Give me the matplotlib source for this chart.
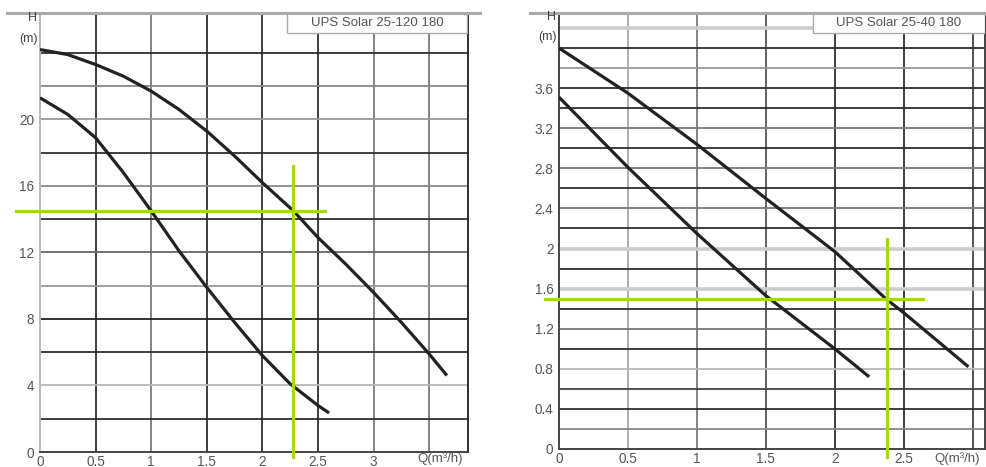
import matplotlib
matplotlib.use("Agg")
import matplotlib.pyplot as plt
from matplotlib.lines import Line2D
from matplotlib.patches import Rectangle

plt.rcParams['font.family'] = ['Liberation Sans', 'DejaVu Sans']

# pump curves, UPS Solar 25-120 180
q120_hi = [0, 0.25, 0.5, 0.75, 1.0, 1.25, 1.5, 1.75, 2.0, 2.28, 2.5, 2.75, 3.0, 3.25, 3.5, 3.66]
h120_hi = [24.2, 23.9, 23.3, 22.6, 21.7, 20.6, 19.3, 17.8, 16.2, 14.5, 12.9, 11.3, 9.6, 7.8, 5.9, 4.6]
q120_lo = [0, 0.25, 0.5, 0.75, 1.0, 1.25, 1.5, 1.75, 2.0, 2.25, 2.5, 2.6]
h120_lo = [21.3, 20.3, 18.9, 16.8, 14.5, 12.1, 9.9, 7.8, 5.8, 4.1, 2.8, 2.35]
duty120 = (2.28, 14.5)

# pump curves, UPS Solar 25-40 180
q40_hi = [0, 0.5, 1.0, 1.5, 2.0, 2.37, 2.5, 2.97]
h40_hi = [4.0, 3.55, 3.04, 2.5, 1.97, 1.5, 1.36, 0.82]
q40_lo = [0, 0.5, 1.0, 1.5, 2.0, 2.25]
h40_lo = [3.51, 2.81, 2.15, 1.53, 1.0, 0.72]
duty40 = (2.38, 1.5)

xt120 = [0, 0.5, 1, 1.5, 2, 2.5, 3]
yt120 = [0, 4, 8, 12, 16, 20]
xt40 = [0, 0.5, 1, 1.5, 2, 2.5]
yt40 = [0, 0.4, 0.8, 1.2, 1.6, 2.0, 2.4, 2.8, 3.2, 3.6]

DARK = '#2e2e2e'
MID = '#7a7a7a'
LIGHT = '#b8b8b8'
GREEN = '#a6d813'
TXT = '#555555'

W, H = 987, 467
fig = plt.figure(figsize=(W / 100, H / 100), dpi=100)
ax1 = fig.add_axes([40 / W, 1 - 452 / H, 428 / W, 439 / H])
ax2 = fig.add_axes([559 / W, 1 - 449 / H, 426 / W, 436 / H])


def grid(ax, xs, ys):
    for v, c in xs:
        ax.axvline(v, color=c, lw=1.3, zorder=1)
    for v, c in ys:
        ax.axhline(v, color=c, lw=1.3, zorder=1)


def curve(ax, q, h):
    ax.plot(q, h, color='#222222', lw=2.3, zorder=3,
            solid_capstyle='butt', solid_joinstyle='round')


# left chart
ax1.set_xlim(0, 3.85)
ax1.set_ylim(0, 26.4)
grid(ax1,
     [(0.5, DARK), (1.0, MID), (1.5, DARK), (2.0, DARK), (2.5, DARK), (3.0, MID), (3.5, MID)],
     [(2, DARK), (4, LIGHT), (6, DARK), (8, '#222222'), (10, '#999999'), (12, '#666666'),
      (14, DARK), (16, '#8a8a8a'), (18, DARK), (20, '#999999'), (22, '#888888'), (24, DARK)])
curve(ax1, q120_hi, h120_hi)
curve(ax1, q120_lo, h120_lo)
ax1.plot([-0.22, 2.56], [duty120[1], duty120[1]], color=GREEN, lw=2.3, zorder=4, clip_on=False)
ax1.plot([duty120[0], duty120[0]], [17.2, -0.3], color=GREEN, lw=2.3, zorder=4, clip_on=False)
ax1.spines['left'].set_color(LIGHT)
ax1.spines['bottom'].set_color('#444444')
ax1.spines['right'].set_color(DARK)
ax1.spines['top'].set_visible(False)
for s in ax1.spines.values():
    s.set_linewidth(1.4)
ax1.set_xticks(xt120, [f'{v:g}' for v in xt120])
ax1.set_yticks(yt120, [f'{v:g}' for v in yt120])
ax1.add_patch(Rectangle((0.577, 0.954), 0.421, 0.046, transform=ax1.transAxes,
                        facecolor='white', edgecolor='#aaaaaa', lw=1.0, zorder=5))
ax1.text(0.787, 0.977, 'UPS Solar 25-120 180', transform=ax1.transAxes,
         ha='center', va='center', fontsize=9.5, color=TXT, zorder=6)

# right chart
ax2.set_xlim(0, 3.09)
ax2.set_ylim(0, 4.35)
grid(ax2,
     [(0.5, '#aaaaaa'), (1.0, MID), (1.5, '#555555'), (2.0, DARK), (2.5, DARK), (3.0, '#444444')],
     [(0.2, '#888888'), (0.4, DARK), (0.6, '#444444'), (0.8, LIGHT), (1.0, DARK), (1.2, '#777777'),
      (1.4, DARK), (1.8, DARK), (2.2, DARK), (2.4, '#777777'), (2.6, DARK),
      (2.8, '#777777'), (3.0, DARK), (3.2, '#777777'), (3.4, DARK), (3.6, DARK),
      (3.8, '#999999'), (4.0, DARK)])
for v in (1.6, 2.0, 4.2):
    ax2.axhline(v, color='#cccccc', lw=2.6, zorder=1)
curve(ax2, q40_hi, h40_hi)
curve(ax2, q40_lo, h40_lo)
ax2.plot([-0.1, 2.64], [duty40[1], duty40[1]], color=GREEN, lw=2.3, zorder=4, clip_on=False)
ax2.plot([duty40[0], duty40[0]], [2.1, -0.08], color=GREEN, lw=2.3, zorder=4, clip_on=False)
for k in ('left', 'bottom', 'right'):
    ax2.spines[k].set_color('#444444')
    ax2.spines[k].set_linewidth(1.4)
ax2.spines['top'].set_visible(False)
ax2.set_xticks(xt40, [f'{v:g}' for v in xt40])
ax2.set_yticks(yt40, [f'{v:g}' for v in yt40])
ax2.add_patch(Rectangle((0.596, 0.954), 0.404, 0.046, transform=ax2.transAxes,
                        facecolor='white', edgecolor='#aaaaaa', lw=1.0, zorder=5))
ax2.text(0.798, 0.977, 'UPS Solar 25-40 180', transform=ax2.transAxes,
         ha='center', va='center', fontsize=9.5, color=TXT, zorder=6)

for ax in (ax1, ax2):
    ax.tick_params(length=0, labelsize=9.8, labelcolor=TXT)
    ax.tick_params(axis='y', pad=4)
    ax.tick_params(axis='x', pad=2)

# axis unit labels and top rules
fig.text(440 / W, 1 - 459 / H, 'Q(m³/h)', ha='center', va='center', fontsize=9.5, color=TXT)
fig.text(957 / W, 1 - 459 / H, 'Q(m³/h)', ha='center', va='center', fontsize=9.5, color=TXT)
fig.text(37 / W, 1 - 18 / H, 'H', ha='right', va='center', fontsize=9, color='#444444')
fig.text(38 / W, 1 - 39 / H, '(m)', ha='right', va='center', fontsize=9, color='#444444')
fig.text(556 / W, 1 - 17 / H, 'H', ha='right', va='center', fontsize=9, color='#444444')
fig.text(557 / W, 1 - 37 / H, '(m)', ha='right', va='center', fontsize=9, color='#444444')
fig.add_artist(Line2D([7 / W, 480 / W], [1 - 13 / H] * 2, color='#aaaaaa', lw=2.2))
fig.add_artist(Line2D([530 / W, 1.0], [1 - 13 / H] * 2, color='#aaaaaa', lw=2.2))

fig.savefig('out.png', dpi=100)
